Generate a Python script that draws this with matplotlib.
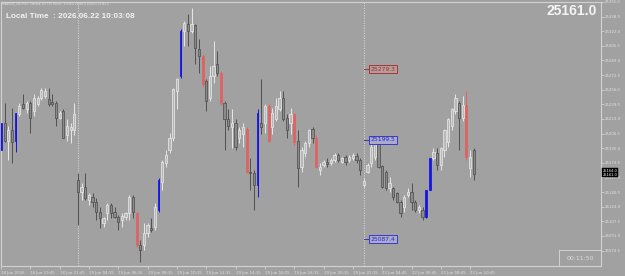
import matplotlib
matplotlib.use("Agg")
import matplotlib.pyplot as plt
from matplotlib.patches import Rectangle
import numpy as np

# ---------------- data (M15 candles) ----------------
opens = [
    25187.5, 25219.0, 25198.7, 25210.0, 25198.7, 25229.1, 25240.3, 25234.7, 25241.5, 25232.5,
    25240.3, 25247.1, 25249.3, 25246.0, 25242.6, 25241.5, 25224.6, 25232.5, 25204.4, 25210.0,
    25210.0, 25153.8, 25140.3, 25145.9, 25131.3, 25134.7, 25129.1, 25117.8, 25105.5, 25116.7,
    25125.7, 25117.8, 25112.2, 25108.8, 25112.2, 25116.7, 25134.7, 25116.7, 25080.7, 25080.7,
    25094.2, 25099.8, 25101.0, 25120.1, 25151.5, 25172.9, 25187.5, 25201.0, 25254.9, 25271.8,
    25322.4, 25330.3, 25322.4, 25329.1, 25302.1, 25294.3, 25266.2, 25247.1, 25271.8, 25285.3,
    25275.2, 25241.5, 25223.5, 25213.4, 25217.9, 25202.1, 25206.6, 25212.2, 25162.8, 25161.7,
    25148.2, 25217.9, 25219.0, 25238.1, 25213.4, 25223.5, 25234.7, 25247.1, 25224.6, 25217.9,
    25229.1, 25198.7, 25168.4, 25184.1, 25195.4, 25212.2, 25202.1, 25165.0, 25170.6, 25174.0,
    25172.9, 25176.3, 25181.9, 25174.0, 25179.6, 25176.3, 25178.5, 25180.8, 25176.3, 25148.2,
    25162.8, 25172.9, 25179.6, 25195.4, 25169.5, 25162.8, 25144.8, 25144.8, 25139.2, 25129.1,
    25123.4, 25136.9, 25140.3, 25129.1, 25120.1, 25120.1, 25112.2, 25142.5, 25178.5, 25184.1,
    25170.6, 25187.5, 25196.5, 25215.6, 25232.5, 25241.5, 25224.6, 25239.2, 25167.3, 25187.5,
]
highs = [
    25221.2, 25241.5, 25215.6, 25235.8, 25230.2, 25241.5, 25251.6, 25243.7, 25243.7, 25251.6,
    25249.3, 25258.3, 25258.3, 25258.3, 25251.6, 25243.7, 25232.5, 25234.7, 25223.5, 25219.0,
    25241.5, 25161.7, 25150.4, 25161.7, 25139.2, 25139.2, 25133.6, 25123.4, 25112.2, 25127.9,
    25127.9, 25123.4, 25114.4, 25116.7, 25117.8, 25136.9, 25136.9, 25117.8, 25086.3, 25105.5,
    25105.5, 25111.1, 25127.9, 25156.0, 25176.3, 25187.5, 25207.7, 25258.3, 25269.6, 25324.6,
    25333.6, 25341.5, 25348.2, 25330.3, 25313.4, 25296.5, 25268.4, 25283.0, 25311.1, 25299.9,
    25277.4, 25243.7, 25234.7, 25234.7, 25223.5, 25213.4, 25217.9, 25213.4, 25178.5, 25165.0,
    25234.7, 25268.4, 25240.3, 25240.3, 25235.8, 25247.1, 25254.9, 25254.9, 25229.1, 25235.8,
    25230.2, 25210.0, 25190.9, 25198.7, 25212.2, 25213.4, 25204.4, 25172.9, 25176.3, 25178.5,
    25178.5, 25184.1, 25184.1, 25179.6, 25181.9, 25181.9, 25184.1, 25184.1, 25178.5, 25156.0,
    25172.9, 25195.4, 25198.7, 25198.7, 25170.6, 25165.0, 25157.2, 25145.9, 25140.3, 25131.3,
    25136.9, 25144.8, 25150.4, 25131.3, 25125.7, 25123.4, 25142.5, 25178.5, 25189.8, 25189.8,
    25190.9, 25212.2, 25224.6, 25235.8, 25251.6, 25243.7, 25249.3, 25254.9, 25187.5, 25189.8,
]
lows = [
    25185.3, 25196.5, 25176.3, 25172.9, 25185.3, 25226.8, 25234.7, 25230.2, 25207.7, 25226.8,
    25238.1, 25244.8, 25247.1, 25238.1, 25238.1, 25215.6, 25223.5, 25201.0, 25198.7, 25195.4,
    25204.4, 25103.2, 25131.3, 25131.3, 25125.7, 25123.4, 25108.8, 25099.8, 25101.0, 25108.8,
    25111.1, 25111.1, 25097.6, 25101.0, 25108.8, 25108.8, 25111.1, 25078.5, 25061.6, 25075.1,
    25089.7, 25095.3, 25097.6, 25117.8, 25142.5, 25168.4, 25184.1, 25198.7, 25234.7, 25269.6,
    25305.5, 25305.5, 25320.1, 25285.3, 25275.2, 25260.6, 25232.5, 25243.7, 25263.9, 25271.8,
    25239.2, 25187.5, 25210.0, 25189.8, 25187.5, 25195.4, 25190.9, 25161.7, 25142.5, 25120.1,
    25134.7, 25206.6, 25207.7, 25196.5, 25206.6, 25221.2, 25232.5, 25221.2, 25201.0, 25206.6,
    25194.2, 25145.9, 25162.8, 25179.6, 25190.9, 25195.4, 25167.3, 25159.4, 25168.4, 25168.4,
    25170.6, 25174.0, 25174.0, 25172.9, 25170.6, 25174.0, 25176.3, 25172.9, 25159.4, 25145.9,
    25161.7, 25168.4, 25176.3, 25167.3, 25144.8, 25142.5, 25140.3, 25131.3, 25127.9, 25112.2,
    25117.8, 25134.7, 25120.1, 25117.8, 25116.7, 25108.8, 25111.1, 25142.5, 25176.3, 25165.0,
    25165.0, 25179.6, 25190.9, 25210.0, 25229.1, 25187.5, 25221.2, 25176.3, 25157.2, 25153.8,
]
closes = [
    25217.9, 25198.7, 25210.0, 25196.5, 25230.2, 25238.1, 25235.8, 25241.5, 25224.6, 25247.1,
    25247.1, 25256.1, 25254.9, 25240.3, 25240.3, 25224.6, 25230.2, 25202.1, 25215.6, 25213.4,
    25229.1, 25140.3, 25145.9, 25133.6, 25136.9, 25129.1, 25117.8, 25111.1, 25111.1, 25125.7,
    25116.7, 25112.2, 25106.6, 25113.3, 25116.7, 25134.7, 25117.8, 25080.7, 25075.1, 25094.2,
    25103.2, 25097.6, 25123.4, 25153.8, 25174.0, 25181.9, 25202.1, 25257.2, 25268.4, 25322.4,
    25331.4, 25322.4, 25330.3, 25303.3, 25294.3, 25262.8, 25243.7, 25271.8, 25283.0, 25275.2,
    25241.5, 25223.5, 25215.6, 25217.9, 25190.9, 25210.0, 25213.4, 25162.8, 25161.7, 25148.2,
    25230.2, 25213.4, 25238.1, 25198.7, 25230.2, 25238.1, 25247.1, 25223.5, 25210.0, 25229.1,
    25196.5, 25167.3, 25187.5, 25195.4, 25210.0, 25202.1, 25168.4, 25168.4, 25174.0, 25172.3,
    25176.3, 25181.9, 25176.3, 25178.5, 25174.0, 25179.6, 25181.9, 25176.3, 25165.0, 25152.7,
    25170.6, 25190.9, 25195.4, 25168.4, 25145.9, 25144.8, 25150.4, 25134.7, 25129.1, 25116.7,
    25134.7, 25140.3, 25129.1, 25120.1, 25123.4, 25112.2, 25142.5, 25178.5, 25185.3, 25170.6,
    25189.8, 25210.0, 25223.5, 25234.7, 25247.1, 25224.6, 25239.2, 25179.6, 25179.6, 25161.0,
]
blue_idx = [0, 4, 43, 49, 70, 116, 117]
red_idx = [37, 55, 60, 67, 73, 80, 86, 127]
day_start_idx = [21, 99]

time_label_idx = [0, 8, 16, 24, 32, 40, 48, 56, 64, 72, 80, 88, 96, 104, 112, 120, 128]
time_labels = ["18 Jun 2026", "18 Jun 19:45", "18 Jun 21:45", "19 Jun 04:15", "19 Jun 06:15",
               "19 Jun 08:15", "19 Jun 10:15", "19 Jun 12:15", "19 Jun 14:15", "19 Jun 16:15",
               "19 Jun 18:15", "19 Jun 20:15", "19 Jun 22:15", "22 Jun 04:45", "22 Jun 06:45",
               "22 Jun 08:45", "22 Jun 10:45"]
price_ticks = [25355.0, 25338.5, 25322.0, 25305.5, 25289.0, 25272.5, 25256.0, 25239.5, 25223.0,
               25206.5, 25190.0, 25173.5, 25157.0, 25140.5, 25124.0, 25107.5, 25091.0, 25074.5]
level_prices = [25279.3, 25199.5, 25087.4]
level_kinds = ["red", "blue", "blue"]
bid_price = 25161.0
ask_price = 25164.0
local_time = "2026.06.22 10:03:08"
timer_text = "00:11:50"
title_text = "#NAS100_USD,M15:  Nasdaq 100 CFD Future  25158.0 25165.0 25155.0 25161.0"

# ---------------- style ----------------
BG = "#A1A1A1"
FRAME = "#D2D2D2"
BULL_EDGE = "#E8E8E8"
BULL_FACE = "#B8B8B8"
BEAR_EDGE = "#505050"
BEAR_FACE = "#8A8A8A"
BLUE = "#1414E6"
RED = "#E06262"

fig = plt.figure(figsize=(6.25, 2.76), dpi=100)
fig.patch.set_facecolor(BG)
ax = fig.add_axes([1 / 625, 10 / 276, 600 / 625, 264 / 276])
ax.set_facecolor(BG)

n = len(opens)
x = np.arange(n)
o = np.array(opens); h = np.array(highs); l = np.array(lows); c = np.array(closes)

face, edge, wick, widths = [], [], [], []
for i in range(n):
    if i in blue_idx:
        face.append(BLUE); edge.append(BLUE); wick.append(BLUE); widths.append(0.42)
    elif i in red_idx:
        face.append(RED); edge.append(RED); wick.append(RED); widths.append(0.55)
    elif c[i] >= o[i]:
        face.append(BULL_FACE); edge.append(BULL_EDGE); wick.append(BULL_EDGE); widths.append(0.62)
    else:
        face.append(BEAR_FACE); edge.append(BEAR_EDGE); wick.append(BEAR_EDGE); widths.append(0.62)

hi = np.maximum(h, np.maximum(o, c))
lo = np.minimum(l, np.minimum(o, c))
ax.vlines(x, lo, hi, colors=wick, linewidth=0.7, zorder=2)
bottoms = np.minimum(o, c)
heights = np.maximum(np.abs(c - o), 0.6)
ax.bar(x, heights, bottom=bottoms, width=widths, color=face, edgecolor=edge,
       linewidth=0.55, zorder=3)

for d in day_start_idx:
    ax.axvline(d, color="#DADADA", linewidth=0.6, linestyle=(0, (1.5, 1.5)), zorder=1)

for p, k in zip(level_prices, level_kinds):
    col = "#A02828" if k == "red" else "#2828C8"
    fill = "#B89C9C" if k == "red" else "#AAAACC"
    ax.plot([day_start_idx[1], day_start_idx[1] + 1.7], [p, p], color=col, linewidth=0.6, zorder=4)
    ax.text(day_start_idx[1] + 1.85, p, f"{p:.1f}", fontsize=4.3, color=col, ha="left", va="center",
            zorder=5, bbox=dict(boxstyle="square,pad=0.22", fc=fill, ec=col, lw=0.6))

ax.set_xlim(0.08, 163.7)
ax.set_ylim(25057.1, 25353.9)

for s in ax.spines.values():
    s.set_color(FRAME)
    s.set_linewidth(0.8)

ax.yaxis.tick_right()
ax.set_yticks(price_ticks)
ax.set_yticklabels([f"{v:.1f}" for v in price_ticks])
ax.tick_params(axis="y", colors=FRAME, labelcolor="#E2E2E2", labelsize=2.8, length=2, width=0.6, pad=1)
ax.set_xticks(time_label_idx)
ax.set_xticklabels(time_labels)
ax.tick_params(axis="x", colors=FRAME, labelcolor="#E2E2E2", labelsize=2.8, length=2.5, width=0.6, pad=1.2)
for t in ax.get_xticklabels():
    t.set_horizontalalignment("left")

# bid / ask tag on the price axis
ax.text(1.003, (ask_price + bid_price) / 2, f"{ask_price:.1f}\n{bid_price:.1f}",
        transform=ax.get_yaxis_transform(), fontsize=2.6, color="white", ha="left", va="center",
        linespacing=1.0, clip_on=False, zorder=6,
        bbox=dict(boxstyle="square,pad=0.15", fc="black", ec="black", lw=0.3))

# texts
fig.text(2 / 625, 1 - 4.5 / 276, title_text, fontsize=1.9, color="#E6E6E6", ha="left", va="center")
fig.text(6 / 625, 1 - 16 / 276, "Local Time  : " + local_time, fontsize=5.9, fontweight="bold",
         family="Liberation Sans", color="#F2F2F2", ha="left", va="center")
fig.text(597 / 625, 1 - 11 / 276, f"{bid_price:.1f}", fontsize=10, fontweight="bold",
         family="Liberation Sans", color="#F4F4F4", ha="right", va="center")

fig.patches.append(Rectangle((559 / 625, 10 / 276), 42 / 625, 16 / 276, transform=fig.transFigure,
                             fill=False, edgecolor=FRAME, linewidth=0.7))
fig.text(580 / 625, 1 - 258 / 276, timer_text, fontsize=4.5, color="#DCDCDC", ha="center", va="center")

fig.savefig("out.png", dpi=100, facecolor=BG)
